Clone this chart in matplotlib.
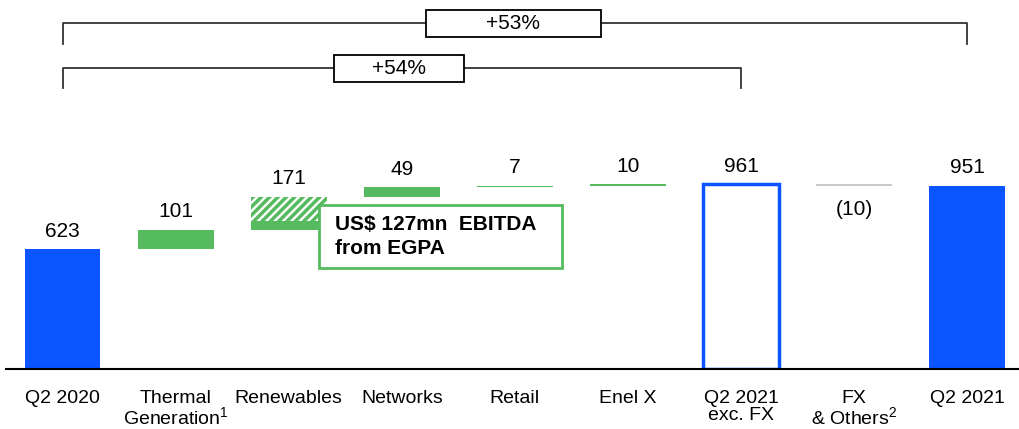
import matplotlib.pyplot as plt
from matplotlib.patches import Rectangle

plt.rcParams['font.family'] = ['Liberation Sans', 'DejaVu Sans']
plt.rcParams['mathtext.fontset'] = 'custom'
plt.rcParams['mathtext.rm'] = 'Liberation Sans'
plt.rcParams['hatch.linewidth'] = 2.5

# EBITDA bridge, US$ mn
categories = ['Q2 2020', 'Thermal\nGeneration$^{1}$', 'Renewables', 'Networks', 'Retail',
              'Enel X', 'Q2 2021\nexc. FX', 'FX\n& Others$^{2}$', 'Q2 2021']
values = [623, 101, 171, 49, 7, 10, 961, -10, 951]
labels = ['623', '101', '171', '49', '7', '10', '961', '(10)', '951']
kinds = ['total', 'up', 'up', 'up', 'up', 'up', 'subtotal', 'down', 'total']
egpa = 127  # part of the renewables step coming from EGPA

blue = '#0A55FF'
green = '#55BB5E'
grey = '#C8C8C8'

fig = plt.figure(figsize=(10.19, 4.29), dpi=100)
ax = fig.add_axes([0, 60 / 429, 1, 369 / 429])
ax.set_xlim(-0.553, 8.457)
ax.set_ylim(0, 1917)

width = 0.67
running = 0
tops = []
for i, (v, kind) in enumerate(zip(values, kinds)):
    if kind == 'total':
        ax.bar(i, v, width, color=blue, zorder=2)
        running = v
        tops.append(v)
    elif kind == 'subtotal':
        ax.bar(i, v, width, color='white', edgecolor=blue, linewidth=2.5, zorder=2)
        running = v
        tops.append(v)
    elif kind == 'down':
        ax.bar(i, -v, width, bottom=running + v, color=grey, zorder=2)
        running += v
        tops.append(running)
    else:
        if categories[i] == 'Renewables':
            solid = v - egpa
            ax.bar(i, solid, width, bottom=running, color=green, zorder=2)
            ax.bar(i, egpa, width, bottom=running + solid, color='white',
                   edgecolor=green, hatch='////', linewidth=0, zorder=2)
        else:
            ax.bar(i, v, width, bottom=running, color=green, zorder=2)
        running += v
        tops.append(running)

# value labels
for i, (lab, kind) in enumerate(zip(labels, kinds)):
    if kind == 'down':
        ax.annotate(lab, (i, tops[i]), xytext=(0, -10), textcoords='offset points',
                    ha='center', va='top', fontsize=15)
    else:
        ax.annotate(lab, (i, tops[i]), xytext=(0, 9), textcoords='offset points',
                    ha='center', va='baseline', fontsize=15)

# EGPA callout
ax.add_patch(Rectangle((2.27, 525), 2.15, 327, facecolor='white', edgecolor=green,
                       linewidth=2, zorder=3))
ax.text(2.41, 688, 'US$ 127mn  EBITDA\nfrom EGPA', fontsize=15, fontweight='bold',
        va='center', ha='left', linespacing=1.35, zorder=4)

# growth brackets
def bracket(x0, x1, y, drop, label, bx0, bx1, bh):
    ax.plot([x0, x0, x1, x1], [y - drop, y, y, y - drop], color='#333333', lw=1.3,
            clip_on=False, zorder=1)
    ax.add_patch(Rectangle((bx0, y - bh / 2), bx1 - bx0, bh, facecolor='white',
                           edgecolor='black', lw=1.3, zorder=3, clip_on=False))
    ax.text((bx0 + bx1) / 2, y, label, ha='center', va='center', fontsize=15, zorder=4)

bracket(0, 8, 1795, 104, '+53%', 3.21, 4.76, 140)
bracket(0, 6, 1562, 104, '+54%', 2.40, 3.55, 140)

ax.set_xticks(range(len(categories)))
ax.set_xticklabels(categories, fontsize=14, linespacing=1.0)
ax.tick_params(axis='x', length=0, pad=15)
ax.set_yticks([])
for side in ['left', 'right', 'top']:
    ax.spines[side].set_visible(False)
ax.spines['bottom'].set_bounds(-0.5, 8.457)
ax.spines['bottom'].set_linewidth(1.5)
ax.spines['bottom'].set_zorder(3)

fig.savefig('out.png', dpi=100)
